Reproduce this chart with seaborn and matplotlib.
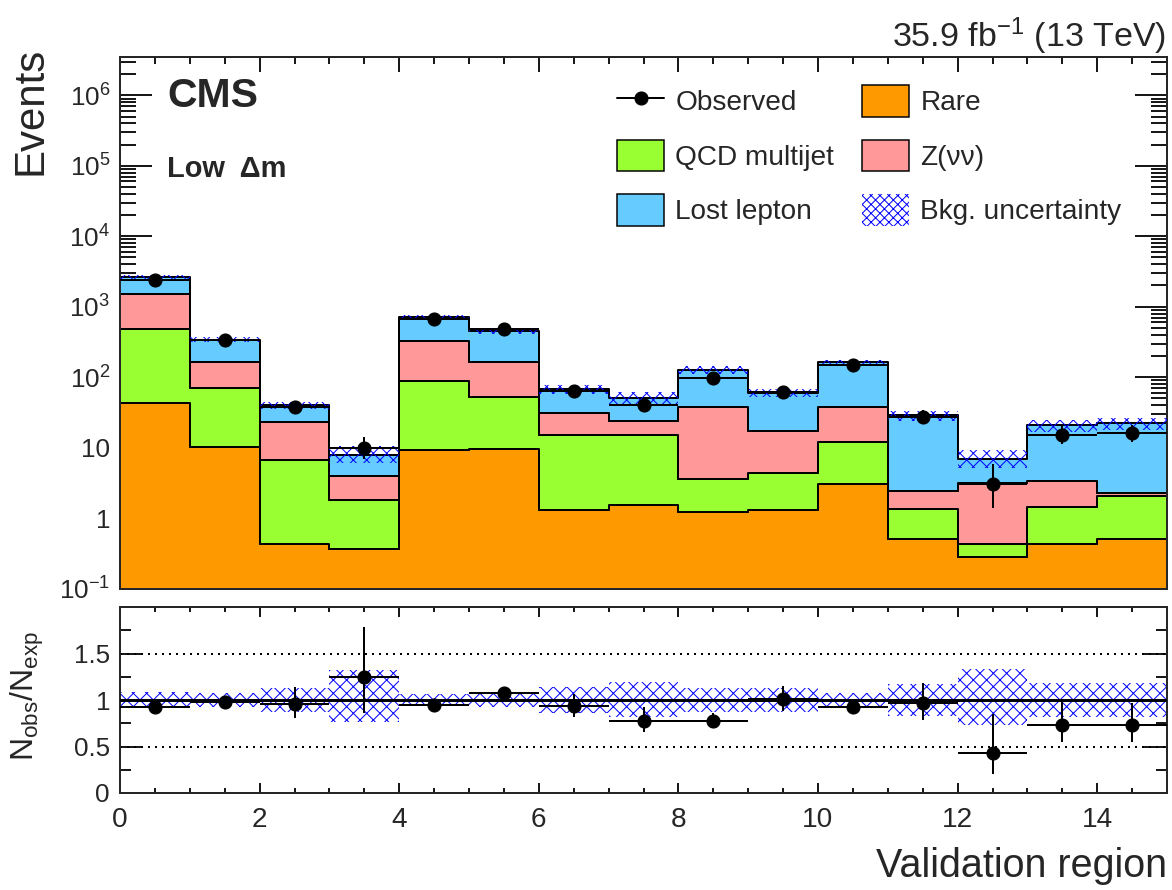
import numpy as np
import pandas as pd
import matplotlib.pyplot as plt
import seaborn as sns
from matplotlib.patches import Patch
from matplotlib.lines import Line2D
from matplotlib.ticker import MultipleLocator, LogLocator, FixedLocator, FuncFormatter, NullFormatter

# validation regions 0..14 (one bin each)
regions = np.arange(15)
rare = [42.6, 10.3, 0.43, 0.36, 9.36, 9.68, 1.3, 1.53, 1.23, 1.3, 3.03, 0.5, 0.28, 0.43, 0.5]
qcd = [442, 60, 6.16, 1.45, 79, 43.3, 13.7, 13.77, 2.34, 3.05, 8.87, 0.85, 0.15, 1.02, 1.56]
znunu = [1015, 95, 16.7, 2.08, 239, 109, 16.3, 8.5, 34.1, 12.75, 25.8, 1.08, 2.7, 1.96, 0.24]
lostlep = [1100, 176, 16.5, 4.05, 386, 288, 36.1, 27.5, 88.3, 43.3, 124.3, 26.2, 3.83, 17.2, 19.7]
observed = [2390, 334, 38, 9.9, 675, 485, 63, 39.9, 98, 60.8, 150, 27.6, 3.0, 15.1, 16.1]
obs_err_up = [50, 19, 7.2, 4.3, 27, 23, 9.0, 7.4, 11, 8.8, 13, 6.3, 2.9, 5.0, 5.1]
obs_err_dn = [49, 18, 6.1, 3.1, 26, 22, 7.9, 6.3, 9.9, 7.8, 12.2, 5.2, 1.6, 3.9, 4.0]
# relative background uncertainty
unc_up = [0.09, 0.08, 0.125, 0.32, 0.06, 0.08, 0.14, 0.19, 0.125, 0.125, 0.075, 0.17, 0.33, 0.18, 0.18]
unc_dn = [0.09, 0.08, 0.125, 0.24, 0.06, 0.08, 0.14, 0.18, 0.125, 0.125, 0.075, 0.17, 0.27, 0.18, 0.18]

procs = ['Lost lepton', 'Z(νν)', 'QCD multijet', 'Rare']  # top of stack first
colors = {'Rare': '#ff9900', 'QCD multijet': '#99ff33', 'Z(νν)': '#ff9999', 'Lost lepton': '#66ccff'}
hatch_blue = '#0000ff'

PX = 72 / 80  # points per pixel at dpi 80


def main():
    sns.set_theme(style='ticks')
    plt.rcParams['font.family'] = ['Liberation Sans', 'DejaVu Sans']
    plt.rcParams['mathtext.fontset'] = 'custom'
    plt.rcParams['mathtext.rm'] = 'Liberation Sans'
    plt.rcParams['mathtext.it'] = 'Liberation Sans:italic'
    plt.rcParams['mathtext.bf'] = 'Liberation Sans:bold'
    plt.rcParams['hatch.linewidth'] = 1.0 * PX
    plt.rcParams['axes.linewidth'] = 2 * PX

    df = pd.DataFrame({
        'region': np.tile(regions + 0.5, len(procs)),
        'process': np.repeat(procs, len(regions)),
        'events': np.concatenate([lostlep, znunu, qcd, rare]),
    })

    total = np.array(rare) + np.array(qcd) + np.array(znunu) + np.array(lostlep)
    obs = np.array(observed)
    edges = np.arange(16)
    centers = regions + 0.5

    def steps(v):
        v = np.asarray(v)
        return np.append(v, v[-1])

    fig = plt.figure(figsize=(1172 / 80, 890 / 80), dpi=80)
    ax1 = fig.add_axes([120 / 1172, 1 - 588.5 / 890, 1047 / 1172, 531.5 / 890])
    ax2 = fig.add_axes([120 / 1172, 1 - 793 / 890, 1047 / 1172, 186 / 890])

    # stacked backgrounds
    sns.histplot(data=df, x='region', weights='events', hue='process', hue_order=procs,
                 multiple='stack', bins=15, binrange=(0, 15), element='step', fill=True, alpha=1,
                 palette=colors, edgecolor='black', linewidth=2 * PX, legend=False, ax=ax1)
    ax1.set_yscale('log')

    # background uncertainty band
    ax1.fill_between(edges, steps(total * (1 - np.array(unc_dn))), steps(total * (1 + np.array(unc_up))),
                     step='post', facecolor='none', edgecolor=hatch_blue, hatch='xx', linewidth=0, zorder=3)

    ax1.errorbar(centers, obs, xerr=0.5, yerr=[obs_err_dn, obs_err_up], fmt='o', color='black',
                 ms=13 * PX, elinewidth=2 * PX, capsize=0, zorder=5)

    ax1.set_xlim(0, 15)
    ax1.set_ylim(0.1, 3.5e6)
    ax1.set_xlabel('')
    ax1.set_ylabel('Events', fontsize=42 * PX, loc='top')
    ax1.yaxis.set_label_coords(-0.066, 1.02)

    def log_fmt(v, pos):
        e = int(round(np.log10(v)))
        if e == 0:
            return '1'
        if e == 1:
            return '10'
        return r'$10^{%d}$' % e

    ax1.yaxis.set_major_locator(LogLocator(base=10, numticks=20))
    ax1.yaxis.set_minor_locator(LogLocator(base=10, subs=np.arange(2, 10), numticks=20))
    ax1.yaxis.set_major_formatter(FuncFormatter(log_fmt))
    ax1.yaxis.set_minor_formatter(NullFormatter())
    ax1.xaxis.set_major_locator(MultipleLocator(2))
    ax1.xaxis.set_minor_locator(MultipleLocator(0.5))
    ax1.tick_params(axis='x', which='both', labelbottom=False)
    ax1.tick_params(which='both', direction='in', top=True, right=True, width=1.8 * PX, color='black')
    ax1.tick_params(axis='y', which='major', length=32 * PX, labelsize=26 * PX, pad=10 * PX)
    ax1.tick_params(axis='y', which='minor', length=16 * PX)
    ax1.tick_params(axis='x', which='major', length=15 * PX)
    ax1.tick_params(axis='x', which='minor', length=7 * PX)

    ax1.text(0.045, 0.963, 'CMS', transform=ax1.transAxes, fontsize=41 * PX,
             fontweight='bold', ha='left', va='top')
    ax1.text(0.045, 0.815, 'Low  Δm', transform=ax1.transAxes, fontsize=29 * PX,
             fontweight='bold', ha='left', va='top')
    fig.text(1166 / 1172, 1 - 47 / 890, r'35.9 fb$^{-1}$ (13 TeV)', fontsize=34 * PX,
             ha='right', va='baseline')

    handles = [
        Line2D([], [], color='black', marker='o', ms=13 * PX, lw=2 * PX),
        Patch(facecolor=colors['QCD multijet'], edgecolor='black', linewidth=1.5 * PX),
        Patch(facecolor=colors['Lost lepton'], edgecolor='black', linewidth=1.5 * PX),
        Patch(facecolor=colors['Rare'], edgecolor='black', linewidth=1.5 * PX),
        Patch(facecolor=colors['Z(νν)'], edgecolor='black', linewidth=1.5 * PX),
        Patch(facecolor='none', edgecolor=hatch_blue, hatch='xxx', linewidth=0),
    ]
    labels = ['Observed', 'QCD multijet', 'Lost lepton', 'Rare', 'Z(νν)', 'Bkg. uncertainty']
    fig.legend(handles, labels, ncol=2, loc='upper left', bbox_to_anchor=(617 / 1172, 1 - 85 / 890),
               bbox_transform=fig.transFigure, frameon=False, fontsize=28 * PX,
               handlelength=1.68, handleheight=1.36, labelspacing=0.82, handletextpad=0.4,
               columnspacing=1.0, borderpad=0, borderaxespad=0)

    # ratio panel
    ratio = obs / total
    r_up = np.array(obs_err_up) / total
    r_dn = np.array(obs_err_dn) / total
    ax2.fill_between(edges, steps(1 - np.array(unc_dn)), steps(1 + np.array(unc_up)), step='post',
                     facecolor='none', edgecolor=hatch_blue, hatch='xx', linewidth=0, zorder=2)
    ax2.axhline(1.0, color='black', lw=3 * PX, zorder=3)
    for yv in (0.5, 1.5):
        ax2.axhline(yv, color='black', lw=2 * PX, ls=(0, (1, 2.5)), zorder=1)
    ax2.errorbar(centers, ratio, xerr=0.5, yerr=[r_dn, r_up], fmt='o', color='black',
                 ms=13 * PX, elinewidth=2 * PX, capsize=0, zorder=5)

    ax2.set_xlim(0, 15)
    ax2.set_ylim(0, 2)
    ax2.yaxis.set_major_locator(FixedLocator([0, 0.5, 1, 1.5]))
    ax2.yaxis.set_major_formatter(FuncFormatter(lambda v, p: '%g' % v))
    ax2.yaxis.set_minor_locator(FixedLocator([0.25, 0.75, 1.25, 1.75]))
    ax2.xaxis.set_major_locator(MultipleLocator(2))
    ax2.xaxis.set_minor_locator(MultipleLocator(0.5))
    ax2.tick_params(which='both', direction='in', top=True, right=True, width=1.8 * PX, color='black')
    ax2.tick_params(axis='y', which='major', length=23 * PX, labelsize=26 * PX, pad=10 * PX)
    ax2.tick_params(axis='y', which='minor', length=11 * PX)
    ax2.tick_params(axis='x', which='major', length=10 * PX, labelsize=28 * PX, pad=14 * PX)
    ax2.tick_params(axis='x', which='minor', length=5 * PX)
    ax2.set_ylabel(r'N$_{\mathrm{obs}}$/N$_{\mathrm{exp}}$', fontsize=32 * PX)
    ax2.yaxis.set_label_coords(-0.071, 0.52)
    ax2.set_xlabel('Validation region', fontsize=39.5 * PX, loc='right')
    ax2.xaxis.set_label_coords(1.0, -0.29)

    fig.savefig('out.png', dpi=80)
    plt.close(fig)


if __name__ == "__main__":
    main()
